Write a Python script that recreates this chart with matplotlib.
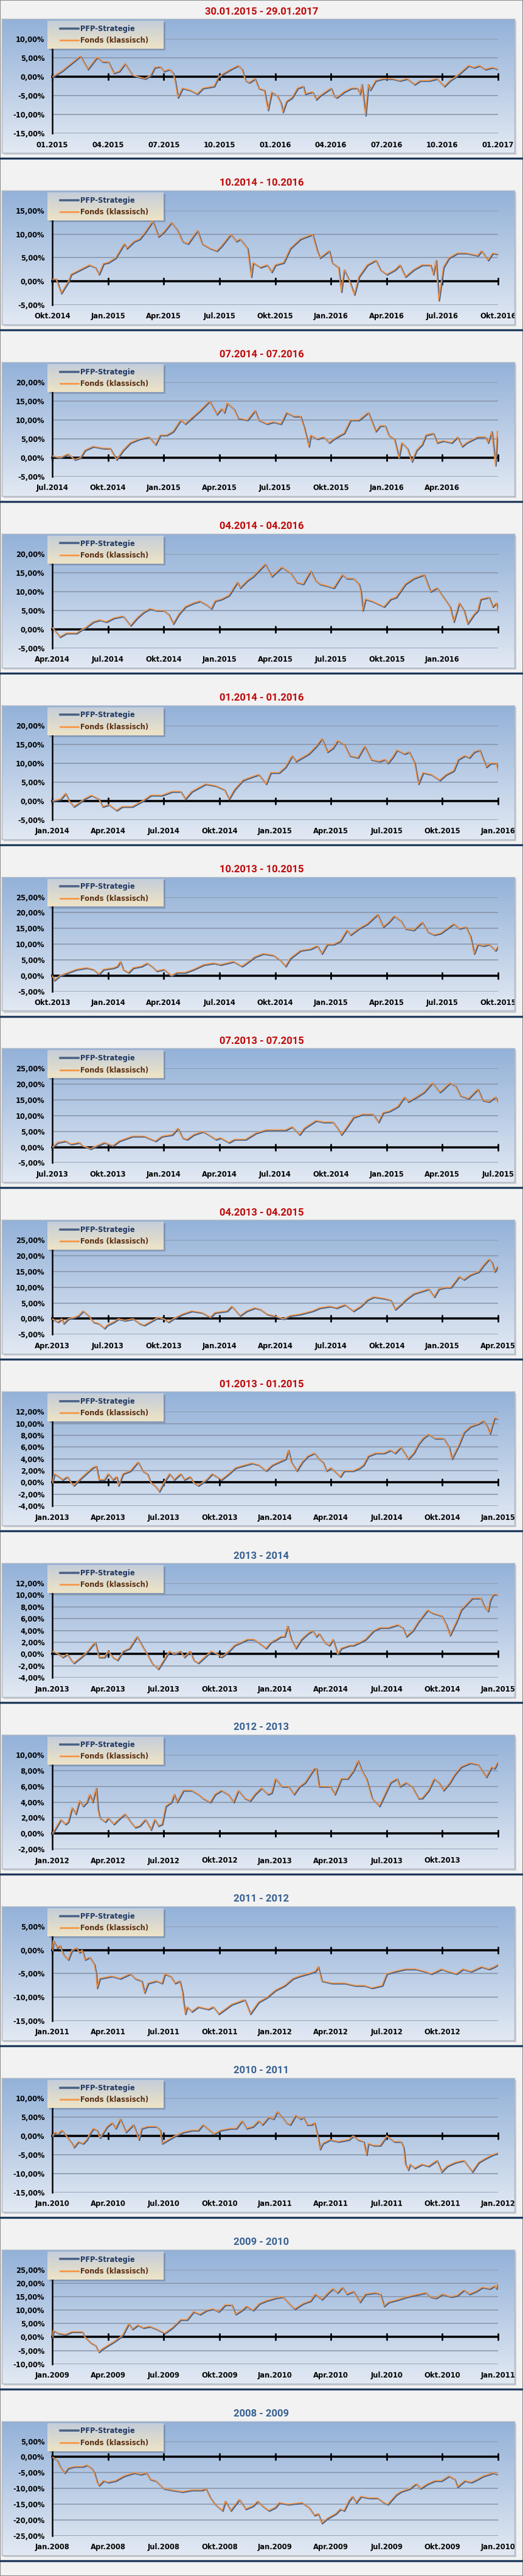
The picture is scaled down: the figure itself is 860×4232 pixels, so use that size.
import numpy as np
import matplotlib
matplotlib.use('Agg')
from matplotlib import pyplot as plt
from matplotlib.patches import Rectangle
from matplotlib.lines import Line2D
from matplotlib.transforms import ScaledTranslation

# Wertentwicklung in %, Punkte als (Monate ab Achsenbeginn, Wert)
s01 = [(0,0),(0.5,1.5),(1,3.5),(1.5,5.5),(1.9,2.0),(2.4,5.2),(2.7,4.0),(3,4.0),(3.3,1.0),(3.6,1.5),(3.9,3.5),(4.3,0.5),(4.6,0),(5,-0.5),(5.3,0.5),(5.5,2.5),(5.8,2.7),(6,1.5),(6.3,2.0),(6.5,1.0),(6.6,-1.0),(6.75,-5.5),(7,-3.0),(7.4,-3.5),(7.8,-4.5),(8.1,-3.0),(8.7,-2.5),(8.95,0),(9.25,1.0),(9.6,2.0),(10,3.0),(10.2,2.0),(10.4,-1.0),(10.6,-1.5),(10.9,-0.5),(11.1,-3.0),(11.4,-3.5),(11.6,-8.8),(11.8,-4.0),(12.1,-5.0),(12.3,-7.0),(12.4,-9.3),(12.6,-6.5),(12.9,-5.5),(13.2,-3.0),(13.5,-2.5),(13.6,-4.5),(14,-4.0),(14.2,-6.0),(14.4,-5.0),(14.7,-4.0),(15,-3.0),(15.15,-5.0),(15.3,-5.5),(15.7,-4.0),(16.1,-3.0),(16.4,-3.0),(16.55,-4.5),(16.65,-2.0),(16.85,-10.2),(17,-2.0),(17.1,-3.5),(17.4,-1.0),(17.8,-0.5),(18.3,-0.5),(18.7,-1.0),(19.1,-0.5),(19.5,-2.0),(19.8,-1.0),(20.3,-1.0),(20.7,-0.5),(21.1,-2.5),(21.4,-1.0),(21.7,0.0),(21.95,1.0),(22.4,3.0),(22.7,2.5),(23,3.0),(23.3,2.0),(23.7,2.5),(24,2.0)]
s02 = [(0,0.5),(0.2,0.5),(0.47,-2.5),(0.86,0),(1,1.5),(1.5,2.5),(2,3.5),(2.3,3.0),(2.5,1.5),(2.75,3.8),(3,4.0),(3.4,5.0),(3.86,8.0),(4.0,7.0),(4.4,8.5),(4.7,9.0),(5,10.5),(5.4,12.8),(5.7,9.5),(6,10.5),(6.4,12.5),(6.7,11.0),(7,8.5),(7.3,8.0),(7.8,10.8),(8.05,8.0),(8.5,7.0),(8.85,6.5),(9.1,7.5),(9.6,10.0),(9.9,8.5),(10.1,9.0),(10.5,7.0),(10.7,1.0),(10.8,4.0),(11.2,3.0),(11.55,3.5),(11.8,2.0),(12,3.5),(12.45,4.0),(12.8,7.0),(13.35,9.0),(14,10.0),(14.25,6.5),(14.4,5.0),(14.9,6.5),(15.05,4.0),(15.4,3.0),(15.55,-2.2),(15.7,2.5),(16,0.0),(16.25,-2.8),(16.5,1.0),(16.95,3.5),(17.4,4.5),(17.65,2.5),(18,1.5),(18.45,2.5),(18.7,3.5),(19,1.0),(19.45,2.5),(19.9,3.5),(20.35,3.5),(20.5,1.5),(20.65,4.5),(20.8,-4.0),(21.05,3.0),(21.35,5.0),(21.8,6.0),(22.3,6.0),(22.9,5.5),(23.1,6.5),(23.45,4.5),(23.7,6.0),(24,5.8)]
s03 = [(0,0.5),(0.4,0),(0.85,1.0),(1.2,-0.5),(1.5,0),(1.75,2.0),(2.2,3.0),(2.75,2.5),(3.1,2.5),(3.45,-0.5),(3.8,2.0),(4.2,4.0),(4.7,5.0),(5.2,5.5),(5.55,3.5),(5.8,6.0),(6.15,6.0),(6.5,7.0),(6.9,10.0),(7.15,9.0),(7.6,11.0),(7.95,12.5),(8.45,15.0),(8.85,11.5),(9.1,13.0),(9.25,12.0),(9.4,14.5),(9.75,13.0),(10,10.5),(10.5,10.0),(10.9,12.5),(11.1,10.0),(11.55,9.0),(11.9,9.5),(12.3,9.0),(12.6,12.0),(13,11.0),(13.35,11.0),(13.55,8.0),(13.8,3.0),(13.9,6.0),(14.25,5.0),(14.6,5.5),(14.9,4.0),(15.15,5.0),(15.5,6.0),(15.7,6.5),(16.05,10.0),(16.5,10.0),(16.75,11.0),(17,12.0),(17.4,7.0),(17.65,8.5),(17.9,8.5),(18.1,6.0),(18.4,5.0),(18.65,0.0),(18.8,4.0),(19.1,2.5),(19.35,-1.0),(19.6,2.0),(19.9,3.5),(20.1,6.0),(20.5,6.5),(20.7,4.0),(21.05,4.5),(21.5,4.0),(21.8,5.5),(22.05,3.0),(22.3,4.0),(22.9,5.5),(23.3,5.5),(23.45,4.0),(23.65,7.0),(23.85,-2.0),(23.95,7.0),(24,5.5)]
s04 = [(0,0.5),(0.4,-2.0),(0.75,-1.0),(1.3,-1.0),(1.6,0),(1.8,0.5),(2.2,2.0),(2.55,2.5),(2.9,2.0),(3.3,3.0),(3.8,3.5),(4.2,1.0),(4.55,3.0),(4.9,4.5),(5.25,5.5),(5.6,5.0),(6,5.0),(6.25,4.0),(6.5,1.5),(6.8,4.0),(7.15,6.0),(7.6,7.0),(7.95,7.5),(8.3,6.5),(8.55,5.5),(8.75,7.5),(9.1,8.0),(9.5,9.0),(9.95,12.5),(10.1,11.0),(10.5,13.0),(10.8,14.0),(11.45,17.3),(11.8,14.0),(12.35,16.5),(12.8,15.0),(13.15,12.5),(13.5,12.0),(13.9,15.5),(14.15,13.0),(14.4,12.0),(14.8,11.5),(15.15,11.0),(15.6,14.5),(15.85,13.5),(16.2,13.5),(16.5,12.0),(16.6,10.0),(16.7,5.0),(16.85,8.0),(17.2,7.5),(17.85,6.0),(18.2,8.0),(18.5,8.5),(19,12.0),(19.45,13.5),(20,14.5),(20.35,10.0),(20.7,11.0),(21.05,8.5),(21.4,6.0),(21.6,2.0),(21.9,7.0),(22.15,5.0),(22.35,1.5),(22.7,4.0),(22.9,5.0),(23.05,8.0),(23.5,8.5),(23.7,6.0),(23.9,7.0),(24,4.5)]
s05 = [(0,0),(0.45,0.5),(0.7,2.0),(0.9,0),(1.15,-1.5),(1.45,-0.5),(1.7,0.5),(2.1,1.5),(2.5,0.5),(2.7,-1.5),(3.05,-1.0),(3.45,-2.5),(3.75,-1.5),(4.3,-1.5),(4.85,0),(5.3,1.5),(5.9,1.5),(6.45,2.5),(6.9,2.5),(7.15,0.5),(7.5,2.5),(8.25,4.5),(8.8,4.0),(9.25,3.0),(9.5,0.5),(9.8,3.0),(10.25,5.5),(10.8,6.5),(11.1,7.0),(11.5,4.5),(11.75,7.5),(12.2,7.5),(12.55,9.0),(12.9,12.0),(13.1,10.5),(13.45,11.5),(13.8,12.5),(14.2,14.5),(14.5,16.5),(14.8,13.0),(15.1,14.0),(15.35,16.0),(15.7,15.0),(16,12.0),(16.45,11.5),(16.8,14.5),(17.15,11.0),(17.6,10.5),(17.9,11.0),(18.05,10.0),(18.3,11.5),(18.55,13.5),(18.95,12.5),(19.2,13.0),(19.5,10.0),(19.7,4.5),(19.95,7.5),(20.4,7.0),(20.85,5.5),(21.2,7.0),(21.6,8.0),(21.85,11.0),(22.2,12.0),(22.45,11.5),(22.7,13.0),(23,13.5),(23.35,9.0),(23.6,10.0),(23.9,10.0),(24,7.5)]
s06 = [(0,0),(0.1,-1.5),(0.4,0),(0.85,1.0),(1.3,2.0),(1.85,2.5),(2.2,2.0),(2.5,0.5),(2.75,2.0),(3.3,2.5),(3.5,3.0),(3.65,4.5),(3.8,2.0),(4.1,1.0),(4.35,2.5),(4.8,3.0),(5.1,4.0),(5.35,3.0),(5.6,1.5),(6,2.0),(6.4,0),(6.7,1.0),(7.15,1.0),(7.6,2.0),(8.15,3.5),(8.7,4.0),(9.05,3.5),(9.75,4.5),(10.2,3.0),(10.45,4.0),(10.9,6.0),(11.35,7.0),(11.9,6.5),(12.25,5.0),(12.55,3.0),(12.8,5.5),(13.35,8.0),(13.9,8.5),(14.25,9.5),(14.5,7.0),(14.8,10.0),(15.15,10.0),(15.5,11.0),(15.85,14.5),(16.05,13.0),(16.5,15.0),(16.95,16.5),(17.5,19.5),(17.8,15.5),(18.1,17.0),(18.4,19.0),(18.75,17.5),(19,15.0),(19.45,14.5),(19.9,17.0),(20.2,14.0),(20.55,13.0),(20.9,13.5),(21.6,16.5),(21.9,15.0),(22.25,15.5),(22.5,12.5),(22.7,7.0),(22.9,10.0),(23.2,9.5),(23.5,10.0),(23.85,8.0),(24,9.5)]
s07 = [(0,0),(0.27,1.5),(0.7,2.0),(1,1.0),(1.45,1.5),(1.6,0.5),(1.85,0),(2.05,-0.5),(2.4,0.5),(2.8,1.5),(3.25,0.5),(3.6,2.0),(4.3,3.5),(4.95,3.5),(5.55,2.0),(5.9,3.5),(6.45,4.0),(6.75,6.0),(7,3.0),(7.25,2.5),(7.6,4.0),(8.1,5.0),(8.4,4.0),(8.8,2.5),(9.05,3.0),(9.5,1.5),(9.8,2.5),(10.4,2.5),(10.95,4.5),(11.5,5.5),(12.2,5.5),(12.55,5.5),(12.9,6.5),(13.3,4.0),(13.55,6.0),(13.8,7.0),(14.2,8.5),(14.6,8.0),(15.1,8.0),(15.35,6.0),(15.55,4.0),(15.8,6.0),(16.2,9.5),(16.7,10.5),(17.25,10.5),(17.55,8.0),(17.8,11.0),(18.15,11.5),(18.6,13.0),(18.95,16.0),(19.15,14.5),(19.6,16.0),(20,17.5),(20.45,20.5),(20.85,17.5),(21.05,18.5),(21.4,20.5),(21.7,19.5),(21.95,16.5),(22.4,15.5),(22.9,18.5),(23.15,15.0),(23.5,14.5),(23.85,16.0),(24,14.0)]
s08 = [(0,0),(0.3,-1.0),(0.5,0),(0.6,-1.5),(0.85,0),(1.2,0.5),(1.4,1.0),(1.65,2.5),(1.95,1.0),(2.2,-1.0),(2.5,-1.5),(2.8,-3.0),(2.95,-2.0),(3.3,-1.0),(3.55,0),(3.9,-0.5),(4.35,0),(4.7,-1.5),(4.95,-2.0),(5.25,-1.0),(5.7,0.5),(6,0),(6.25,-1.0),(6.5,0),(7,1.5),(7.5,2.5),(8.05,2.0),(8.5,0.5),(8.75,2.0),(9.4,2.5),(9.65,4.0),(10.1,1.0),(10.45,2.5),(10.9,3.5),(11.2,3.0),(11.55,1.5),(11.9,1.0),(12.45,0),(12.8,1.0),(13.35,1.5),(14,2.5),(14.4,3.5),(14.95,4.0),(15.3,3.5),(15.75,4.5),(16.2,2.5),(16.6,4.0),(16.95,6.0),(17.3,7.0),(17.85,6.5),(18.2,6.0),(18.45,3.0),(18.75,4.5),(19,6.0),(19.45,8.0),(20,9.0),(20.25,9.5),(20.55,7.0),(20.8,9.5),(21.15,10.0),(21.45,10.0),(21.9,13.5),(22.15,12.5),(22.5,14.0),(22.95,15.0),(23.2,17.0),(23.5,19.0),(23.65,18.0),(23.8,15.0),(24,17.0)]
s09 = [(0,0),(0.1,1.5),(0.35,1.0),(0.55,0.5),(0.8,1.0),(1,0),(1.15,-0.5),(1.45,0.5),(1.8,1.5),(2.15,2.5),(2.35,2.8),(2.5,0.5),(2.8,0.5),(3,1.5),(3.25,0.5),(3.45,1.0),(3.55,-0.5),(3.8,1.5),(4.2,2.0),(4.6,3.5),(4.85,2.0),(5.1,1.5),(5.3,0),(5.5,-0.5),(5.75,-1.5),(6,0),(6.3,1.5),(6.55,0.5),(6.9,1.5),(7.1,0.5),(7.4,1.0),(7.6,0),(7.85,-0.5),(8.3,0.5),(8.6,1.5),(8.85,1.0),(9.1,0.5),(9.5,1.5),(9.85,2.5),(10.4,3.0),(10.75,3.3),(11.1,3.0),(11.5,2.0),(11.85,3.0),(12.2,3.5),(12.55,4.0),(12.7,5.5),(12.85,3.5),(13.15,2.0),(13.45,3.5),(13.75,4.5),(14.1,5.0),(14.35,4.0),(14.55,3.5),(14.75,2.0),(15,2.5),(15.5,1.0),(15.7,2.0),(16.2,2.0),(16.55,2.5),(16.75,3.0),(17,4.5),(17.4,5.0),(17.85,5.0),(18.2,5.5),(18.45,5.0),(18.75,6.0),(18.95,5.0),(19.15,4.0),(19.45,5.0),(19.7,6.5),(19.95,7.5),(20.25,8.2),(20.6,7.5),(21.05,7.5),(21.35,6.0),(21.5,4.0),(21.9,6.5),(22.15,8.5),(22.5,9.5),(22.95,10.0),(23.2,10.5),(23.4,9.5),(23.55,8.3),(23.7,10.0),(23.8,11.0),(24,10.8)]
s10 = [(0,0.5),(0.35,0),(0.55,-0.5),(0.8,0),(1,-1.0),(1.15,-1.5),(1.55,-0.5),(1.9,0.5),(2.15,1.5),(2.3,2.0),(2.5,-0.5),(2.8,-0.5),(3,0.5),(3.25,-0.5),(3.5,-1.0),(3.8,0.5),(4.15,1.0),(4.55,3.0),(4.9,1.0),(5.1,0),(5.35,-1.5),(5.7,-2.5),(6,-1.0),(6.3,0.5),(6.55,0),(6.9,0.5),(7.1,-0.5),(7.4,0.5),(7.6,-1.0),(7.85,-1.5),(8.2,-0.5),(8.55,0.5),(8.9,0),(9.1,-0.5),(9.5,0.5),(9.8,1.5),(10.15,2.0),(10.5,2.5),(10.85,2.5),(11.3,1.5),(11.5,1.0),(11.75,2.0),(12.05,2.5),(12.3,3.0),(12.5,3.0),(12.65,4.8),(12.85,2.5),(13.1,1.0),(13.4,2.5),(13.75,3.5),(14,4.0),(14.2,3.0),(14.35,3.5),(14.65,2.0),(14.9,1.5),(15.1,2.5),(15.35,0),(15.55,1.0),(16,1.5),(16.2,1.5),(16.55,2.0),(16.85,2.5),(17.3,4.0),(17.65,4.5),(18.1,4.5),(18.6,5.0),(18.85,4.5),(19.05,3.0),(19.4,4.0),(19.7,5.5),(19.95,6.5),(20.2,7.5),(20.45,7.0),(20.95,6.5),(21.2,5.0),(21.4,3.2),(21.75,5.5),(22,7.5),(22.3,8.5),(22.6,9.5),(23.05,9.5),(23.25,8.0),(23.45,7.3),(23.55,9.0),(23.7,10.0),(23.85,10.2),(24,10.0)]
s11 = [(0,0),(0.25,1.0),(0.45,1.8),(0.7,1.2),(0.85,1.5),(1.05,3.3),(1.25,2.5),(1.45,4.2),(1.65,3.5),(1.85,4.0),(2,5.0),(2.15,4.0),(2.35,5.8),(2.45,3.0),(2.55,2.0),(2.85,1.5),(3,2.0),(3.3,1.2),(3.65,2.0),(3.9,2.5),(4.2,1.5),(4.45,0.8),(4.7,1.0),(5,1.8),(5.3,0.5),(5.5,1.8),(5.7,1.0),(5.9,1.2),(6.1,3.5),(6.4,4.0),(6.55,5.0),(6.7,4.0),(7.05,5.5),(7.5,5.5),(7.85,5.0),(8.1,4.5),(8.5,4.0),(8.75,5.0),(9.1,5.5),(9.45,5.0),(9.75,4.0),(10,5.5),(10.35,4.5),(10.65,4.2),(10.9,5.0),(11.25,5.8),(11.6,5.0),(11.8,5.2),(12,7.0),(12.35,6.0),(12.7,6.0),(13,5.0),(13.3,6.0),(13.6,6.5),(14.1,8.3),(14.2,8.3),(14.35,6.0),(14.95,6.0),(15.2,5.0),(15.55,7.0),(15.9,7.0),(16.2,8.0),(16.45,9.3),(16.65,8.0),(16.9,7.0),(17.2,4.5),(17.6,3.5),(17.9,5.0),(18.2,6.5),(18.55,7.0),(18.7,6.0),(19.05,6.5),(19.35,6.0),(19.7,4.5),(19.9,4.5),(20.25,5.5),(20.55,7.0),(20.8,6.5),(21.05,5.5),(21.4,6.5),(21.65,7.5),(22,8.5),(22.5,9.0),(22.9,8.8),(23.35,7.2),(23.65,8.5),(23.8,8.3),(24,9.2)]
s12 = [(0,0),(0.05,2.0),(0.25,0.5),(0.4,1.0),(0.6,-1.0),(0.85,-2.0),(1.05,0),(1.3,0.5),(1.45,-0.5),(1.6,0),(1.75,-2.0),(2,-1.5),(2.25,-3.0),(2.35,-5.0),(2.4,-8.0),(2.55,-6.0),(3.2,-5.5),(3.65,-6.0),(4.2,-5.0),(4.45,-6.0),(4.8,-6.5),(4.95,-9.0),(5.15,-7.0),(5.6,-6.5),(5.9,-7.0),(6.05,-5.0),(6.35,-5.5),(6.6,-7.0),(6.85,-6.5),(7,-9.0),(7.05,-11.0),(7.15,-13.5),(7.25,-12.0),(7.5,-13.0),(7.85,-12.0),(8.4,-12.5),(8.65,-12.0),(8.95,-13.5),(9.3,-12.5),(9.65,-11.5),(10,-11.0),(10.35,-10.5),(10.65,-13.5),(11.1,-11.0),(11.55,-10.0),(12,-8.5),(12.5,-7.5),(12.95,-6.0),(13.3,-5.5),(13.75,-5.0),(14.15,-4.5),(14.3,-3.5),(14.5,-6.5),(15.05,-7.0),(15.75,-7.0),(16.3,-7.5),(16.8,-7.5),(17.2,-8.0),(17.75,-7.5),(18,-5.0),(18.45,-4.5),(19,-4.0),(19.55,-4.0),(20.05,-4.5),(20.4,-5.0),(20.95,-4.0),(21.3,-4.5),(21.75,-5.0),(22.1,-4.0),(22.55,-4.5),(23.1,-3.5),(23.5,-4.0),(23.8,-3.5),(24,-3.0)]
s13 = [(0,0),(0.15,1.0),(0.3,0.5),(0.5,1.5),(0.75,0),(1.05,-2.0),(1.15,-3.0),(1.4,-1.5),(1.65,-2.0),(1.85,-1.0),(2,0.5),(2.2,2.0),(2.4,1.5),(2.55,-0.5),(2.75,1.0),(2.95,2.5),(3.2,3.5),(3.4,2.0),(3.65,4.5),(3.95,1.0),(4.35,3.0),(4.55,0.5),(4.65,-1.0),(4.8,2.0),(5.15,2.5),(5.6,2.5),(5.8,1.5),(5.9,-2.0),(6.25,-1.0),(6.6,0),(7.05,1.0),(7.5,1.5),(7.85,1.5),(8.1,3.0),(8.35,2.0),(8.7,0.5),(9.05,1.5),(9.6,2.0),(9.9,2.0),(10.2,4.0),(10.45,2.0),(10.8,2.5),(11.1,4.0),(11.3,3.0),(11.65,5.0),(11.9,4.5),(12.1,6.5),(12.35,5.0),(12.6,3.5),(12.8,3.0),(13.1,5.5),(13.35,4.5),(13.5,5.0),(13.7,3.0),(13.95,3.0),(14.1,3.5),(14.3,-0.5),(14.4,-3.5),(14.55,-2.0),(14.95,-1.0),(15.4,-1.5),(15.95,-1.0),(16.2,0),(16.45,-1.0),(16.75,-1.5),(16.9,-5.0),(17,-2.0),(17.3,-2.5),(17.65,-2.5),(18,0),(18.4,-1.5),(18.75,-1.5),(18.9,-3.0),(19,-7.5),(19.15,-9.0),(19.25,-7.5),(19.5,-8.5),(19.9,-7.5),(20.25,-8.0),(20.7,-6.5),(20.95,-9.5),(21.25,-8.0),(21.7,-7.0),(22.15,-6.5),(22.6,-9.5),(22.95,-7.0),(23.3,-6.0),(23.7,-5.0),(24,-4.5)]
s14 = [(0,0),(0.05,2.5),(0.3,1.5),(0.7,1.0),(1.05,2.0),(1.4,2.0),(1.6,2.0),(1.75,0),(2.05,-2.0),(2.3,-3.0),(2.5,-5.5),(2.65,-4.5),(3,-3.0),(3.35,-1.5),(3.65,0),(3.8,1.0),(4.1,5.0),(4.3,3.0),(4.6,4.5),(4.9,3.5),(5.25,4.0),(5.6,3.0),(6.05,1.5),(6.45,3.5),(6.9,6.5),(7.25,6.5),(7.6,9.5),(7.95,8.5),(8.3,10.0),(8.65,10.5),(8.95,9.5),(9.3,12.0),(9.65,12.0),(9.85,8.5),(10.2,10.0),(10.45,11.5),(10.8,10.0),(11.15,12.5),(11.5,13.5),(12,14.5),(12.4,15.0),(12.8,12.0),(13.05,10.5),(13.5,12.5),(13.9,13.5),(14.15,16.0),(14.5,14.0),(14.85,16.5),(15.1,18.0),(15.35,16.5),(15.6,18.5),(15.85,16.0),(16.2,17.0),(16.55,13.0),(16.85,16.0),(17.4,16.5),(17.65,16.0),(17.85,11.5),(18.1,13.0),(18.65,14.0),(19.1,15.0),(20.1,16.5),(20.35,15.0),(20.65,14.5),(21,16.0),(21.45,15.0),(21.8,15.5),(22.15,17.5),(22.45,16.0),(22.8,17.0),(23.15,18.5),(23.55,18.0),(23.8,19.0),(23.9,18.0),(24,20.5)]
s15 = [(0,0),(0.25,-1.0),(0.4,-3.0),(0.65,-5.0),(0.85,-3.5),(1.2,-3.0),(1.65,-3.0),(1.85,-2.5),(2.1,-3.5),(2.25,-5.0),(2.4,-8.0),(2.5,-9.0),(2.75,-7.5),(3,-8.0),(3.4,-7.5),(3.85,-6.0),(4.4,-5.0),(4.75,-5.5),(5.05,-5.0),(5.25,-7.0),(5.55,-7.5),(6,-10.0),(6.45,-10.5),(7,-11.0),(7.5,-10.5),(8.05,-10.5),(8.25,-10.0),(8.5,-13.0),(8.75,-15.0),(9.15,-17.0),(9.3,-14.0),(9.6,-17.0),(10.05,-13.5),(10.4,-16.5),(10.8,-15.5),(11.05,-14.0),(11.3,-15.5),(11.65,-17.0),(12,-16.0),(12.2,-14.5),(12.7,-15.0),(13.45,-14.5),(13.8,-16.0),(14.1,-18.5),(14.3,-18.0),(14.5,-21.0),(14.8,-19.5),(15.25,-18.0),(15.5,-16.5),(15.7,-17.0),(15.95,-14.0),(16.15,-12.5),(16.35,-14.5),(16.6,-12.5),(17.05,-13.0),(17.5,-13.0),(17.85,-14.5),(18.05,-15.0),(18.5,-12.0),(18.75,-11.0),(19.25,-10.0),(19.45,-9.0),(19.6,-8.5),(19.8,-10.0),(20.2,-8.5),(20.6,-7.5),(20.95,-7.5),(21.35,-6.0),(21.65,-7.0),(21.8,-9.5),(22.2,-7.5),(22.55,-8.0),(22.9,-7.0),(23.2,-6.0),(23.5,-5.5),(23.7,-5.0),(24,-5.5)]
series = [s01, s02, s03, s04, s05, s06, s07, s08, s09, s10, s11, s12, s13, s14, s15]

titles = ['30.01.2015 - 29.01.2017', '10.2014 - 10.2016', '07.2014 - 07.2016', '04.2014 - 04.2016',
          '01.2014 - 01.2016', '10.2013 - 10.2015', '07.2013 - 07.2015', '04.2013 - 04.2015',
          '01.2013 - 01.2015', '2013 - 2014', '2012 - 2013', '2011 - 2012', '2010 - 2011',
          '2009 - 2010', '2008 - 2009']

xlabels = [
    ['01.2015', '04.2015', '07.2015', '10.2015', '01.2016', '04.2016', '07.2016', '10.2016', '01.2017'],
    ['Okt.2014', 'Jan.2015', 'Apr.2015', 'Jul.2015', 'Okt.2015', 'Jan.2016', 'Apr.2016', 'Jul.2016', 'Okt.2016'],
    ['Jul.2014', 'Okt.2014', 'Jan.2015', 'Apr.2015', 'Jul.2015', 'Okt.2015', 'Jan.2016', 'Apr.2016', ''],
    ['Apr.2014', 'Jul.2014', 'Okt.2014', 'Jan.2015', 'Apr.2015', 'Jul.2015', 'Okt.2015', 'Jan.2016', ''],
    ['Jan.2014', 'Apr.2014', 'Jul.2014', 'Okt.2014', 'Jan.2015', 'Apr.2015', 'Jul.2015', 'Okt.2015', 'Jan.2016'],
    ['Okt.2013', 'Jan.2014', 'Apr.2014', 'Jul.2014', 'Okt.2014', 'Jan.2015', 'Apr.2015', 'Jul.2015', 'Okt.2015'],
    ['Jul.2013', 'Okt.2013', 'Jan.2014', 'Apr.2014', 'Jul.2014', 'Okt.2014', 'Jan.2015', 'Apr.2015', 'Jul.2015'],
    ['Apr.2013', 'Jul.2013', 'Okt.2013', 'Jan.2014', 'Apr.2014', 'Jul.2014', 'Okt.2014', 'Jan.2015', 'Apr.2015'],
    ['Jan.2013', 'Apr.2013', 'Jul.2013', 'Okt.2013', 'Jan.2014', 'Apr.2014', 'Jul.2014', 'Okt.2014', 'Jan.2015'],
    ['Jan.2013', 'Apr.2013', 'Jul.2013', 'Okt.2013', 'Jan.2014', 'Apr.2014', 'Jul.2014', 'Okt.2014', 'Jan.2015'],
    ['Jan.2012', 'Apr.2012', 'Jul.2012', 'Okt.2012', 'Jan.2013', 'Apr.2013', 'Jul.2013', 'Okt.2013', ''],
    ['Jan.2011', 'Apr.2011', 'Jul.2011', 'Okt.2011', 'Jan.2012', 'Apr.2012', 'Jul.2012', 'Okt.2012', ''],
    ['Jan.2010', 'Apr.2010', 'Jul.2010', 'Okt.2010', 'Jan.2011', 'Apr.2011', 'Jul.2011', 'Okt.2011', 'Jan.2012'],
    ['Jan.2009', 'Apr.2009', 'Jul.2009', 'Okt.2009', 'Jan.2010', 'Apr.2010', 'Jul.2010', 'Okt.2010', 'Jan.2011'],
    ['Jan.2008', 'Apr.2008', 'Jul.2008', 'Okt.2008', 'Jan.2009', 'Apr.2009', 'Jul.2009', 'Okt.2009', 'Jan.2010'],
]

# y-Achse: (min, max, schritt)
yscales = [(-15, 10, 5), (-5, 15, 5), (-5, 20, 5), (-5, 20, 5), (-5, 20, 5), (-5, 25, 5), (-5, 25, 5),
           (-5, 25, 5), (-4, 12, 2), (-4, 12, 2), (-2, 10, 2), (-15, 5, 5), (-15, 10, 5), (-10, 25, 5),
           (-25, 5, 5)]

W, H = 860, 4232
RED, BLUE = '#c00000', '#376092'

plt.rcParams['font.family'] = ['DejaVu Sans']

fig = plt.figure(figsize=(W / 100, H / 100), dpi=100)
fig.patch.set_facecolor('#f2f2f2')


def fbox(x0, y0, x1, y1):
    # Pixel (oben links) -> Figurenkoordinaten
    return [x0 / W, 1 - y1 / H, (x1 - x0) / W, (y1 - y0) / H]


def gradient(top, bottom, n=256):
    t = np.linspace(0, 1, n)[:, None]
    c0 = np.array(matplotlib.colors.to_rgb(top))
    c1 = np.array(matplotlib.colors.to_rgb(bottom))
    return (c0 * (1 - t) + c1 * t)[:, None, :]


plot_bg = gradient('#93b1d8', '#e2e9f3')
leg_bg = gradient('#c4cdda', '#eee4c6')

for k in range(15):
    sep = 260 + k * 281.9
    vals = series[k]
    xs = [p[0] for p in vals]
    ys = [p[1] for p in vals]
    lo, hi, step = yscales[k]

    # Diagrammflaeche mit Verlauf
    fig.add_artist(Rectangle((6 / W, 1 - (sep - 6) / H), 843 / W, 220 / H,
                             transform=fig.transFigure, color='#c9ccd2', lw=0, zorder=-5))
    bg = fig.add_axes(fbox(3, sep - 229, 846, sep - 9))
    bg.imshow(plot_bg, aspect='auto', extent=(0, 1, 0, 1))
    bg.set_xticks([])
    bg.set_yticks([])
    for s in bg.spines.values():
        s.set_color('#aeb7c4')
        s.set_linewidth(1)
    # Schatten der Legende
    lb = fbox(81, sep - 223, 272, sep - 177)
    bg.add_patch(Rectangle((lb[0], lb[1]), lb[2], lb[3], transform=fig.transFigure,
                           color=(0.25, 0.28, 0.35, 0.28), lw=0, clip_on=False, zorder=3))

    ax = fig.add_axes(fbox(86, sep - 196, 819, sep - 41))
    ax.patch.set_visible(False)
    ax.set_xlim(0, 24)
    ax.set_ylim(lo, hi)
    yt = np.arange(lo, hi + step / 2, step)
    ax.set_yticks(yt)
    ax.set_yticklabels([('%.2f' % v).replace('.', ',') + '%' for v in yt],
                       fontsize=8.3, fontweight='bold')
    ax.yaxis.grid(True, color='#8592a6', lw=1.1)
    ax.set_axisbelow(True)
    ax.tick_params(axis='y', length=0, pad=9)
    ax.spines['top'].set_visible(False)
    ax.spines['right'].set_visible(False)
    ax.spines['left'].set_linewidth(1.8)
    ax.spines['left'].set_color('black')
    ax.spines['bottom'].set_position(('data', 0))
    ax.spines['bottom'].set_linewidth(2.6)
    ax.spines['bottom'].set_color('black')
    ax.set_xticks(np.arange(0, 25, 3))
    ax.tick_params(axis='x', direction='inout', length=9, width=2, color='black', labelbottom=False)

    off = ScaledTranslation(0.9 / 72, -0.9 / 72, fig.dpi_scale_trans)
    # beide Reihen liegen im Bild praktisch uebereinander
    l_pfp, = ax.plot(xs, ys, color='#4a6286', lw=1.7, transform=ax.transData + off,
                     zorder=3, label='PFP-Strategie')
    l_fonds, = ax.plot(xs, ys, color='#f79646', lw=1.2, zorder=4, label='Fonds (klassisch)')

    # Beschriftung der Zeitachse unten
    sec = ax.secondary_xaxis(0.0)
    sec.set_xticks(np.arange(0, 25, 3))
    sec.set_xticklabels(xlabels[k], fontsize=8.4, fontweight='bold')
    sec.tick_params(length=0, pad=9)
    sec.spines['bottom'].set_visible(False)
    for t in sec.get_xticklabels():
        t.set_clip_box(bg.bbox)
        t.set_clip_on(True)

    # Legende
    lax = fig.add_axes(fbox(78, sep - 226, 269, sep - 180))
    lax.imshow(leg_bg, aspect='auto', extent=(0, 1, 0, 1))
    lax.set_axis_off()
    leg = lax.legend(handles=[l_pfp, l_fonds], loc='center left', bbox_to_anchor=(0, 0.5),
                     frameon=False, handlelength=2.6, handletextpad=0.3,
                     borderpad=0, borderaxespad=0, labelspacing=0.55,
                     prop={'weight': 'bold', 'size': 8.3})
    lines = leg.get_lines()
    lines[0].set_linewidth(2.6)
    lines[1].set_linewidth(2.0)
    leg.get_texts()[0].set_color('#1f3864')
    leg.get_texts()[1].set_color('#5c2e0e')
    leg.set_bbox_to_anchor((21 / 191, 0.5), transform=lax.transAxes)

    fig.text(430 / W, 1 - (sep - 241) / H, titles[k], ha='center', va='center',
             fontsize=12, fontweight='bold', family=['Roboto', 'DejaVu Sans'],
             color=RED if k < 9 else BLUE)

    # Trennlinie
    fig.add_artist(Line2D([0, 1], [1 - sep / H, 1 - sep / H], transform=fig.transFigure,
                          color='#1f3a5c', lw=2.4))

fig.add_artist(Rectangle((0, 0), 1, 1, transform=fig.transFigure, fill=False,
                         edgecolor='#8c8c8c', lw=1.5))

fig.savefig('out.png', dpi=100, facecolor=fig.get_facecolor())
